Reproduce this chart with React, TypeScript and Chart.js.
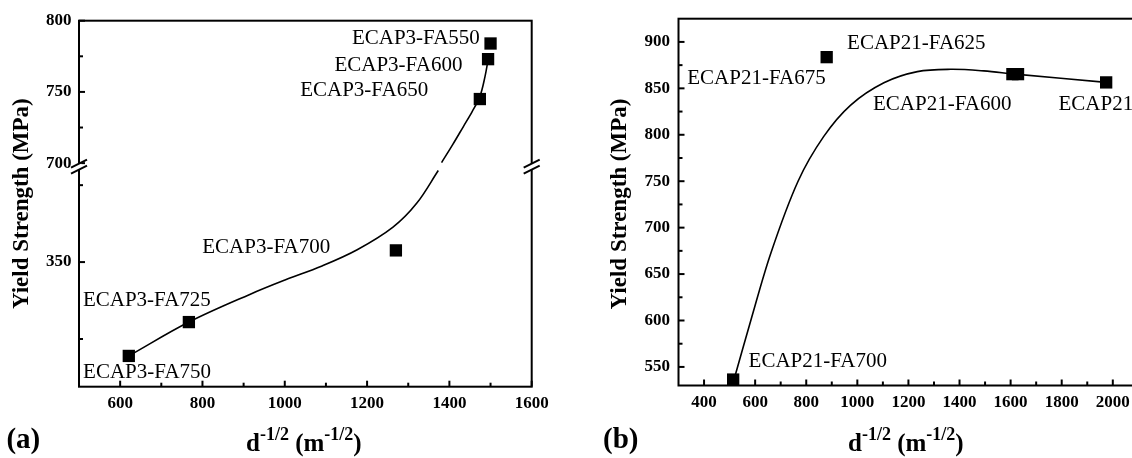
import React, { useEffect, useRef } from 'react';
import { Chart, registerables } from 'chart.js';

Chart.register(...registerables);

const SERIF = '"Liberation Serif", "Times New Roman", serif';

// ---------------- Panel (a) data ----------------
const A_SAMPLES = ['ECAP3-FA750', 'ECAP3-FA725', 'ECAP3-FA700', 'ECAP3-FA650', 'ECAP3-FA600', 'ECAP3-FA550'];
const A_X = [621, 767, 1270, 1474, 1494, 1500];
const A_Y = [289, 311, 357.6, 745, 773, 784];
const A_FIT_LOW_X = [621, 767, 915, 1002, 1089, 1176, 1263, 1320, 1373];
const A_FIT_LOW_Y = [289, 311, 329, 338.5, 347.3, 358, 372.7, 388, 409.5];
const A_FIT_HIGH_X = [1381, 1408, 1434, 1455, 1474, 1486.5, 1494];
const A_FIT_HIGH_Y = [700.4, 713, 725.7, 736, 746.7, 760.7, 772.4];
const A_X_RANGE = [500, 1600];
const A_YHI_RANGE = [697.5, 800];
const A_YLO_RANGE = [269, 412];
const A_X_TICKS = [600, 800, 1000, 1200, 1400, 1600];
const A_X_MINOR = [700, 900, 1100, 1300, 1500];
const A_YHI_TICKS = [700, 750, 800];
const A_YHI_MINOR = [725, 775];
const A_YLO_TICKS = [350];
const A_YLO_MINOR = [300, 400];

// ---------------- Panel (b) data ----------------
const B_SAMPLES = ['ECAP21-FA700', 'ECAP21-FA675', 'ECAP21-FA625', 'ECAP21-FA600', 'ECAP21-FA550'];
const B_X = [514, 880, 1607, 1629, 1974];
const B_Y = [536.4, 883.6, 865.3, 865.3, 856.4];
const B_FIT_X = [519, 583, 662, 768, 868, 974, 1104, 1235, 1365, 1495, 1618, 1974];
const B_FIT_Y = [538, 600, 673, 750, 798, 832, 856, 868, 870.5, 868.8, 865.3, 856.4];
const B_X_RANGE = [300, 2200];
const B_Y_RANGE = [530, 925];
const B_X_TICKS = [400, 600, 800, 1000, 1200, 1400, 1600, 1800, 2000, 2200];
const B_X_MINOR = [500, 700, 900, 1100, 1300, 1500, 1700, 1900, 2100];
const B_Y_TICKS = [550, 600, 650, 700, 750, 800, 850, 900];
const B_Y_MINOR = [575, 625, 675, 725, 775, 825, 875];

const Y_TITLE = 'Yield Strength (MPa)';

// ---------------- layout / style ----------------
type LabelPos = { align: CanvasTextAlign; dx: number; dy: number };
const A_LABEL_POS: LabelPos[] = [
  { align: 'left', dx: -45.7, dy: 22.3 },
  { align: 'left', dx: -106, dy: -15.7 },
  { align: 'right', dx: -65.7, dy: 2.3 },
  { align: 'right', dx: -51.7, dy: -3.3 },
  { align: 'right', dx: -25.7, dy: 11.4 },
  { align: 'right', dx: -10.7, dy: 0.7 },
];
const B_LABEL_POS: LabelPos[] = [
  { align: 'left', dx: 15.4, dy: -12.6 },
  { align: 'right', dx: -1, dy: 26.7 },
  { align: 'left', dx: -165.3, dy: -25.6 },
  { align: 'left', dx: -145, dy: 36 },
  { align: 'left', dx: -47.7, dy: 27.6 },
];

const tickFont = { family: SERIF, size: 17, weight: 'bold' as const };
const plainNumber = (v: any) => String(v);
const MAJOR = 6;
const MINOR = 4;

function line(ctx: CanvasRenderingContext2D, x1: number, y1: number, x2: number, y2: number) {
  ctx.beginPath();
  ctx.moveTo(x1, y1);
  ctx.lineTo(x2, y2);
  ctx.stroke();
}

function xTicks(ctx: CanvasRenderingContext2D, scale: any, bottom: number, vals: number[], len: number) {
  vals.forEach((v) => {
    const px = scale.getPixelForValue(v);
    line(ctx, px, bottom, px, bottom - len);
  });
}
function yTicks(ctx: CanvasRenderingContext2D, scale: any, left: number, vals: number[], len: number) {
  vals.forEach((v) => {
    const py = scale.getPixelForValue(v);
    line(ctx, left, py, left + len, py);
  });
}

function drawLabels(ctx: CanvasRenderingContext2D, pts: { x: number; y: number }[], texts: string[], pos: LabelPos[]) {
  ctx.fillStyle = '#000';
  ctx.font = `21px ${SERIF}`;
  ctx.textBaseline = 'alphabetic';
  pts.forEach((p, i) => {
    ctx.textAlign = pos[i].align;
    ctx.fillText(texts[i], p.x + pos[i].dx, p.y + pos[i].dy);
  });
}

function drawYTitle(ctx: CanvasRenderingContext2D, cx: number, cy: number) {
  ctx.save();
  ctx.translate(cx, cy);
  ctx.rotate(-Math.PI / 2);
  ctx.fillStyle = '#000';
  ctx.font = `bold 23px ${SERIF}`;
  ctx.textAlign = 'center';
  ctx.textBaseline = 'middle';
  ctx.fillText(Y_TITLE, 0, 0);
  ctx.restore();
}

const panelAPlugin = {
  id: 'panelA',
  afterDraw(chart: any) {
    const { ctx, chartArea: ca } = chart;
    const sx = chart.scales.x;
    const hi = chart.scales.yHi;
    const lo = chart.scales.yLo;
    ctx.save();
    ctx.strokeStyle = '#000';
    ctx.lineWidth = 2;
    ctx.strokeRect(ca.left, ca.top, ca.right - ca.left, ca.bottom - ca.top);
    xTicks(ctx, sx, ca.bottom, A_X_TICKS, MAJOR);
    xTicks(ctx, sx, ca.bottom, A_X_MINOR, MINOR);
    yTicks(ctx, hi, ca.left, A_YHI_TICKS, MAJOR);
    yTicks(ctx, hi, ca.left, A_YHI_MINOR, MINOR);
    yTicks(ctx, lo, ca.left, A_YLO_TICKS, MAJOR);
    yTicks(ctx, lo, ca.left, A_YLO_MINOR, MINOR);
    // axis break marks
    const yb = hi.bottom;
    [ca.left, ca.right].forEach((bx: number) => {
      ctx.fillStyle = '#fff';
      ctx.fillRect(bx - 2.5, yb - 3, 5, 6);
      ctx.lineWidth = 2;
      line(ctx, bx - 8, yb + 1, bx + 8, yb - 7);
      line(ctx, bx - 8, yb + 7, bx + 8, yb - 1);
    });
    const pts = A_X.map((x, i) => ({
      x: sx.getPixelForValue(x),
      y: (A_Y[i] > A_YLO_RANGE[1] ? hi : lo).getPixelForValue(A_Y[i]),
    }));
    drawLabels(ctx, pts, A_SAMPLES, A_LABEL_POS);
    drawYTitle(ctx, 22, (ca.top + ca.bottom) / 2);
    ctx.restore();
  },
};

const panelBPlugin = {
  id: 'panelB',
  afterDraw(chart: any) {
    const { ctx, chartArea: ca } = chart;
    const sx = chart.scales.x;
    const sy = chart.scales.y;
    ctx.save();
    ctx.strokeStyle = '#000';
    ctx.lineWidth = 2;
    ctx.strokeRect(ca.left, ca.top, ca.right - ca.left, ca.bottom - ca.top);
    xTicks(ctx, sx, ca.bottom, B_X_TICKS, MAJOR);
    xTicks(ctx, sx, ca.bottom, B_X_MINOR, MINOR);
    yTicks(ctx, sy, ca.left, B_Y_TICKS, MAJOR);
    yTicks(ctx, sy, ca.left, B_Y_MINOR, MINOR);
    const pts = B_X.map((x, i) => ({ x: sx.getPixelForValue(x), y: sy.getPixelForValue(B_Y[i]) }));
    drawLabels(ctx, pts, B_SAMPLES, B_LABEL_POS);
    drawYTitle(ctx, 60, 204);
    ctx.restore();
  },
};

const lineStyle = {
  borderColor: '#000',
  borderWidth: 1.6,
  pointRadius: 0,
  fill: false,
  tension: 0.35,
};
const pointStyle = {
  showLine: false,
  pointStyle: 'rect' as const,
  pointRadius: 8.7,
  borderWidth: 0,
  backgroundColor: '#000',
  borderColor: '#000',
  clip: false as const,
};

function axisCommon() {
  return {
    type: 'linear' as const,
    grid: { display: false, drawTicks: false },
    border: { display: false },
  };
}

function configA(): any {
  const lowPts = A_X.map((x, i) => ({ x, y: A_Y[i] })).filter((p) => p.y <= A_YLO_RANGE[1]);
  const highPts = A_X.map((x, i) => ({ x, y: A_Y[i] })).filter((p) => p.y > A_YLO_RANGE[1]);
  return {
    type: 'line',
    data: {
      datasets: [
        { ...lineStyle, data: A_FIT_LOW_X.map((x, i) => ({ x, y: A_FIT_LOW_Y[i] })), yAxisID: 'yLo' },
        { ...lineStyle, data: A_FIT_HIGH_X.map((x, i) => ({ x, y: A_FIT_HIGH_Y[i] })), yAxisID: 'yHi' },
        { ...pointStyle, data: lowPts, yAxisID: 'yLo' },
        { ...pointStyle, data: highPts, yAxisID: 'yHi' },
      ],
    },
    options: {
      animation: false,
      responsive: false,
      events: [],
      layout: { padding: { left: 0, top: 20.7, right: 28.3, bottom: 0 } },
      plugins: { legend: { display: false }, tooltip: { enabled: false } },
      scales: {
        x: {
          ...axisCommon(),
          position: 'bottom',
          min: A_X_RANGE[0],
          max: A_X_RANGE[1],
          ticks: { font: tickFont, color: '#000', padding: 7, autoSkip: false, maxRotation: 0, callback: plainNumber },
          afterBuildTicks: (s: any) => {
            s.ticks = A_X_TICKS.map((v) => ({ value: v }));
          },
          afterFit: (s: any) => {
            s.height = 71.3;
          },
        },
        yLo: {
          ...axisCommon(),
          position: 'left',
          stack: 'a',
          stackWeight: 220,
          weight: 0,
          min: A_YLO_RANGE[0],
          max: A_YLO_RANGE[1],
          ticks: { font: tickFont, color: '#000', padding: 7.5, autoSkip: false, callback: plainNumber },
          afterBuildTicks: (s: any) => {
            s.ticks = A_YLO_TICKS.map((v) => ({ value: v }));
          },
          afterFit: (s: any) => {
            s.width = 79;
          },
        },
        yHi: {
          ...axisCommon(),
          position: 'left',
          stack: 'a',
          stackWeight: 146,
          weight: 1,
          min: A_YHI_RANGE[0],
          max: A_YHI_RANGE[1],
          ticks: { font: tickFont, color: '#000', padding: 7.5, autoSkip: false, callback: plainNumber },
          afterBuildTicks: (s: any) => {
            s.ticks = A_YHI_TICKS.map((v) => ({ value: v }));
          },
          afterFit: (s: any) => {
            s.width = 79;
          },
        },
      },
    },
    plugins: [panelAPlugin],
  };
}

function configB(): any {
  return {
    type: 'line',
    data: {
      datasets: [
        { ...lineStyle, data: B_FIT_X.map((x, i) => ({ x, y: B_FIT_Y[i] })) },
        { ...pointStyle, data: B_X.map((x, i) => ({ x, y: B_Y[i] })) },
      ],
    },
    options: {
      animation: false,
      responsive: false,
      events: [],
      layout: { padding: { left: 0, top: 12.2, right: 36.1, bottom: 0 } },
      plugins: { legend: { display: false }, tooltip: { enabled: false } },
      scales: {
        x: {
          ...axisCommon(),
          position: 'bottom',
          min: B_X_RANGE[0],
          max: B_X_RANGE[1],
          ticks: { font: tickFont, color: '#000', padding: 7, autoSkip: false, maxRotation: 0, callback: plainNumber },
          afterBuildTicks: (s: any) => {
            s.ticks = B_X_TICKS.map((v) => ({ value: v }));
          },
          afterFit: (s: any) => {
            s.height = 72.5;
          },
        },
        y: {
          ...axisCommon(),
          position: 'left',
          min: B_Y_RANGE[0],
          max: B_Y_RANGE[1],
          ticks: { font: tickFont, color: '#000', padding: 8.5, autoSkip: false, callback: plainNumber },
          afterBuildTicks: (s: any) => {
            s.ticks = B_Y_TICKS.map((v) => ({ value: v }));
          },
          afterFit: (s: any) => {
            s.width = 118.5;
          },
        },
      },
    },
    plugins: [panelBPlugin],
  };
}

const titleStyle: React.CSSProperties = {
  position: 'absolute',
  top: 430,
  fontFamily: SERIF,
  fontWeight: 'bold',
  fontSize: 25,
  lineHeight: '25px',
  whiteSpace: 'nowrap',
  color: '#000',
};
const supStyle: React.CSSProperties = { fontSize: 18, position: 'relative', top: -11 };
const letterStyle: React.CSSProperties = {
  position: 'absolute',
  top: 423.7,
  fontFamily: SERIF,
  fontWeight: 'bold',
  fontSize: 29,
  lineHeight: '29px',
  whiteSpace: 'nowrap',
  color: '#000',
};

function XTitle({ left }: { left: number }) {
  return (
    <div style={{ ...titleStyle, left }}>
      d<span style={supStyle}>-1/2</span> (m<span style={supStyle}>-1/2</span>)
    </div>
  );
}

export default function App() {
  const refA = useRef<HTMLCanvasElement>(null);
  const refB = useRef<HTMLCanvasElement>(null);

  useEffect(() => {
    const a = new Chart(refA.current as HTMLCanvasElement, configA());
    const b = new Chart(refB.current as HTMLCanvasElement, configB());
    return () => {
      a.destroy();
      b.destroy();
    };
  }, []);

  return (
    <div
      style={{
        position: 'fixed',
        left: 0,
        top: 0,
        width: 1132,
        height: 458,
        overflow: 'hidden',
        background: '#fff',
      }}
    >
      <canvas ref={refA} width={560} height={458} style={{ position: 'absolute', left: 0, top: 0, width: 560, height: 458 }} />
      <canvas ref={refB} width={640} height={458} style={{ position: 'absolute', left: 560, top: 0, width: 640, height: 458 }} />
      <XTitle left={246} />
      <XTitle left={848} />
      <div style={{ ...letterStyle, left: 6.4 }}>(a)</div>
      <div style={{ ...letterStyle, left: 603 }}>(b)</div>
    </div>
  );
}
